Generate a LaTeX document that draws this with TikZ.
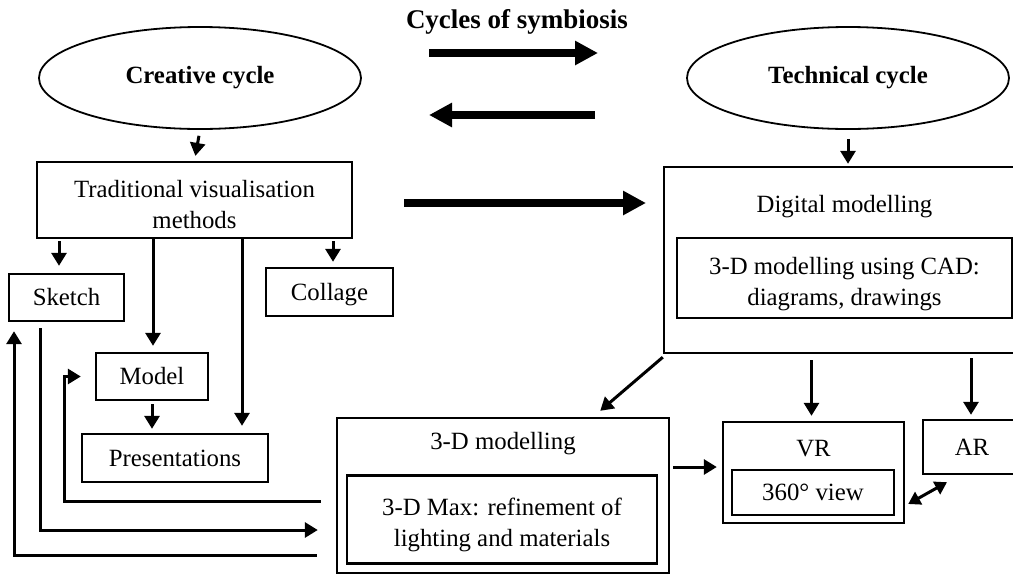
\documentclass[tikz,border=0pt]{standalone}
\usepackage{fontspec}
\setmainfont{Liberation Serif}
\usetikzlibrary{shapes.geometric,arrows.meta,calc}
\newcommand\myfs{\fontsize{24.8}{31}\selectfont}
\begin{document}
\begin{tikzpicture}[x=1pt,y=-1pt,
  box/.style={draw,line width=2.4pt,inner sep=0pt,align=center,font=\myfs},
  txt/.style={inner sep=0pt,align=center,font=\myfs},
  cyc/.style={draw,ellipse,line width=1.8pt,inner sep=0pt,minimum width=322pt,minimum height=102pt,font=\myfs\bfseries},
  arr/.style={line width=3pt,-{Triangle[length=13pt,width=15pt]}},
  bigarr/.style={line width=8pt,-{Triangle[length=23pt,width=23pt]}},
  dblarr/.style={line width=3pt,{Triangle[length=12pt,width=14pt]}-{Triangle[length=12pt,width=14pt]}}]
\useasboundingbox (0,0) rectangle (1013,574);
\clip (0,0) rectangle (1013,574);

% title
\node[inner sep=0pt,font=\fontsize{27}{32}\selectfont\bfseries] (title) at (517,22) {Cycles of symbiosis};

% cycles
\node[cyc] (creative) at (200,78) {Creative cycle};
\node[cyc] (technical) at (848,78) {Technical cycle};

% symbiosis arrows
\coordinate (s1a) at (429,53);  \coordinate (s1b) at (598,53);
\coordinate (s2a) at (595,115); \coordinate (s2b) at (429,115);
\coordinate (s3a) at (404,203); \coordinate (s3b) at (646,203);
\draw[bigarr] (s1a) -- (s1b);
\draw[bigarr] (s2a) -- (s2b);
\draw[bigarr] (s3a) -- (s3b);

% creative side
\node[box,minimum width=315pt,minimum height=76pt] (trad) at (194.5,200) {};
\node[txt] (tradtxt) at (194.5,205) {Traditional visualisation\\methods};
\node[box,minimum width=115pt,minimum height=47pt] (sketch) at (66.5,297.5) {Sketch};
\node[box,minimum width=127pt,minimum height=48pt] (collage) at (329.5,292) {};
\node[txt] (collagetxt) at (329.5,295) {Collage};
\node[box,minimum width=112pt,minimum height=47pt] (model) at (152,376.5) {Model};
\node[box,minimum width=186pt,minimum height=48pt] (pres) at (175,458) {Presentations};

% technical side
\node[box,minimum width=361pt,minimum height=186pt] (digital) at (844.5,260) {};
\node[txt] (digitallbl) at (844.5,207) {Digital modelling};
\node[box,minimum width=335pt,minimum height=80pt] (cad) at (844.5,278) {};
\node[txt] (cadtxt) at (844.5,284) {3-D modelling using CAD:\\diagrams, drawings};

\node[box,minimum width=332pt,minimum height=155pt] (threed) at (503,495.5) {};
\node[txt] (threedlbl) at (503,444) {3-D modelling};
\node[box,minimum width=310pt,minimum height=88pt] (maxbox) at (502,519.5) {};
\node[txt] (maxtxt) at (502,525) {3-D Max: refinement of\\lighting and materials};

\node[box,minimum width=181pt,minimum height=101pt] (vr) at (813.5,472.5) {};
\node[txt] (vrlbl) at (813.5,449) {VR};
\node[box,minimum width=162pt,minimum height=45pt] (view) at (813,492.5) {360° view};
\node[box,minimum width=98pt,minimum height=54pt] (ar) at (972,447) {AR};

% connectors creative side
\draw[arr,shorten <=6pt,shorten >=5pt] (creative.south) -- (trad.north);
\draw[arr,shorten <=2pt,shorten >=7pt] ([xshift=-7.5pt]sketch.north |- trad.south) -- ([xshift=-7.5pt]sketch.north);
\draw[arr,shorten <=2pt,shorten >=5pt] ([xshift=3.5pt]collage.north |- trad.south) -- ([xshift=3.5pt]collage.north);
\draw[arr,shorten >=6pt] ([xshift=1pt]model.north |- trad.south) -- ([xshift=1pt]model.north);
\draw[arr,shorten >=7pt] ([xshift=67pt]pres.north |- trad.south) -- ([xshift=67pt]pres.north);
\draw[arr,shorten <=3pt,shorten >=4pt] (model.south) -- (model.south |- pres.north);

% feedback loops
\draw[arr,shorten <=15pt,shorten >=14pt] ([yshift=-5.5pt]threed.west) -| ([xshift=-30pt]model.west) -- (model.west);
\draw[arr,shorten <=6pt,shorten >=18pt] ([xshift=-26.5pt]sketch.south) |- ([yshift=-34.5pt]threed.west);
\draw[arr,shorten <=19pt,shorten >=9pt] ([yshift=-59.5pt]threed.west) -| ([xshift=-52.5pt]sketch.south);

% connectors technical side
\draw[arr,shorten <=9pt,shorten >=2pt] (technical.south) -- (technical.south |- digital.north);
\draw[arr] ([yshift=-3pt]digital.south west) -- ([xshift=-70pt,yshift=6pt]threed.north east);
\draw[arr,shorten <=6pt,shorten >=5pt] ([xshift=-2pt]vr.north |- digital.south) -- ([xshift=-2pt]vr.north);
\draw[arr,shorten <=4pt,shorten >=4pt] ([xshift=-1pt]ar.north |- digital.south) -- ([xshift=-1pt]ar.north);
\coordinate (vrin) at ([yshift=5.5pt]vr.west);
\draw[arr,shorten <=3pt,shorten >=5pt] (threed.east |- vrin) -- (vrin);
\draw[dblarr] ([xshift=3pt,yshift=-31.5pt]vr.east) -- ([xshift=-25pt,yshift=-7pt]ar.south);
\end{tikzpicture}
\end{document}
